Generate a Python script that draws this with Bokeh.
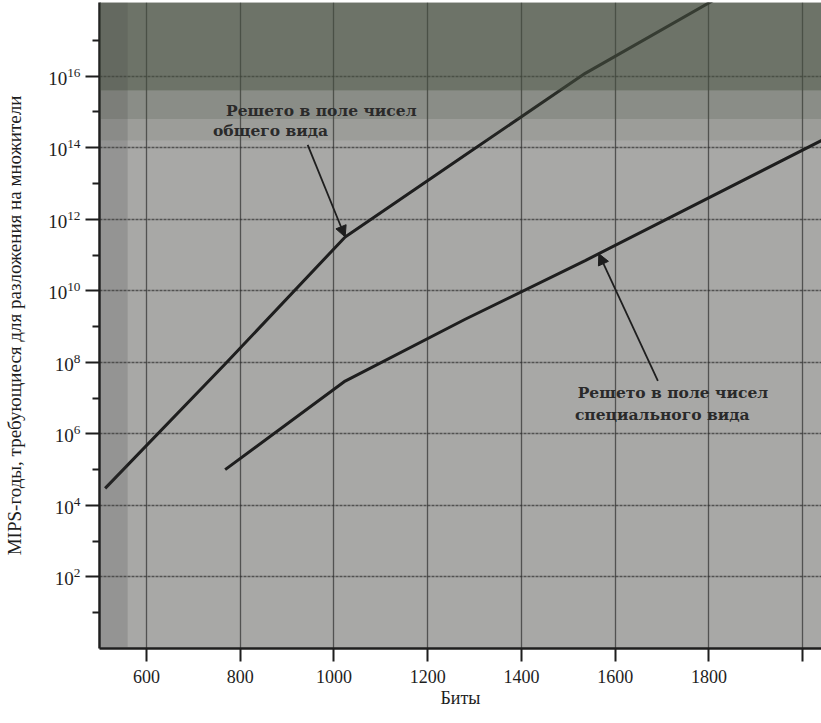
import numpy as np
from bokeh.plotting import figure
from bokeh.models import Range1d, FixedTicker, Label, Arrow, NormalHead, BoxAnnotation
from bokeh.embed import file_html
from bokeh.resources import INLINE

# ---- data ----
gnfs_bits = [512, 768, 1024, 1280, 1536, 2048]
gnfs_mips = [3e4, 9e7, 3.2e11, 6.3e13, 1.2e16, 8e19]
snfs_bits = [768, 1024, 1280, 1536, 2048]
snfs_mips = [1e5, 3e7, 1.6e9, 7e10, 1.8e14]

x_ticks = [600, 800, 1000, 1200, 1400, 1600, 1800, 2000]
y_major = [1e2, 1e4, 1e6, 1e8, 1e10, 1e12, 1e14, 1e16]
y_minor = [1e1, 1e3, 1e5, 1e7, 1e9, 1e11, 1e13, 1e15, 1e17]

gnfs_text = ["Решето в поле чисел", "общего вида"]
snfs_text = ["Решето в поле чисел", "специального вида"]
x_title = "Биты"
y_title = "MIPS-годы, требующиеся для разложения на множители"

SERIF = "Liberation Serif"
NOTE_FONT = "DejaVu Serif"
INK = "#1e1e1e"

p = figure(width=821, height=723, output_backend="svg", toolbar_location=None,
           y_axis_type="log",
           x_range=Range1d(500, 2040), y_range=Range1d(1, 10 ** 18.06),
           min_border_left=99, min_border_right=0, min_border_top=2,
           min_border_bottom=75)

p.background_fill_color = "#a8a8a6"
p.border_fill_color = "white"
p.outline_line_color = None

# darker shading like the scan
p.add_layout(BoxAnnotation(bottom=10 ** 15.6, fill_color="#465040", fill_alpha=0.6, line_color=None))
p.add_layout(BoxAnnotation(bottom=10 ** 14.8, top=10 ** 15.6, fill_color="#465040", fill_alpha=0.3, line_color=None))
p.add_layout(BoxAnnotation(bottom=10 ** 14.2, top=10 ** 14.8, fill_color="#465040", fill_alpha=0.12, line_color=None))
p.add_layout(BoxAnnotation(right=560, fill_color="#3c3c3c", fill_alpha=0.18, line_color=None))

# axes
p.xaxis.ticker = FixedTicker(ticks=x_ticks)
p.xaxis.major_label_overrides = {2000: ""}
p.yaxis.ticker = FixedTicker(ticks=y_major, minor_ticks=y_minor)

for ax in (p.xaxis[0], p.yaxis[0]):
    ax.axis_line_width = 2.5
    ax.axis_line_color = INK
    ax.major_tick_line_color = INK
    ax.major_tick_line_width = 2
    ax.major_tick_in = 0
    ax.minor_tick_line_color = INK
    ax.minor_tick_line_width = 2
    ax.minor_tick_in = 0
    ax.major_label_text_font = SERIF
    ax.major_label_text_font_size = "18px"
    ax.major_label_text_color = INK
    ax.axis_label_text_font = SERIF
    ax.axis_label_text_font_style = "normal"
    ax.axis_label_text_color = INK

p.xaxis.major_tick_out = 13
p.xaxis.minor_tick_out = 0
p.xaxis.major_label_standoff = 8
p.xaxis.axis_label = x_title
p.xaxis.axis_label_text_font_size = "18px"
p.xaxis.axis_label_standoff = 2

p.yaxis.major_label_text_font_size = "19px"
p.yaxis.major_tick_out = 14
p.yaxis.minor_tick_out = 7
p.yaxis.major_label_standoff = 5
p.yaxis.axis_label = y_title
p.yaxis.axis_label_text_font_size = "19px"
p.yaxis.axis_label_standoff = 20

# grid
p.xgrid.grid_line_color = "#2e2e2e"
p.xgrid.grid_line_alpha = 0.7
p.xgrid.grid_line_width = 1.3
p.ygrid.grid_line_color = "#2e2e2e"
p.ygrid.grid_line_alpha = 0.7
p.ygrid.grid_line_width = 1.3
p.ygrid.grid_line_dash = "3 1"

# curves
p.line(gnfs_bits, gnfs_mips, line_color=INK, line_width=3)
p.line(snfs_bits, snfs_mips, line_color=INK, line_width=3)

# annotations
def curve_at(bits, xs, ys):
    return 10 ** np.interp(bits, xs, np.log10(ys))

p.add_layout(Arrow(end=NormalHead(size=11, fill_color=INK, line_color=INK),
                   x_start=944, y_start=10 ** 14.08,
                   x_end=gnfs_bits[2], y_end=gnfs_mips[2],
                   line_color=INK, line_width=1.8))
snfs_tip_bits = 1565
p.add_layout(Arrow(end=NormalHead(size=11, fill_color=INK, line_color=INK),
                   x_start=1691, y_start=10 ** 7.48,
                   x_end=snfs_tip_bits, y_end=curve_at(snfs_tip_bits, snfs_bits, snfs_mips),
                   line_color=INK, line_width=1.8))

for i, t in enumerate(gnfs_text):
    p.add_layout(Label(x=770 - 28 * i, y=10 ** (15.32 - 0.58 * i), text=t,
                       text_font=NOTE_FONT, text_font_size="15.5px", text_font_style="bold",
                       text_color="#2a2a2a", text_baseline="top", text_align="left"))
for i, t in enumerate(snfs_text):
    p.add_layout(Label(x=1520 - 6 * i, y=10 ** (7.42 - 0.62 * i), text=t,
                       text_font=NOTE_FONT, text_font_size="15.5px", text_font_style="bold",
                       text_color="#2a2a2a", text_baseline="top", text_align="left"))

open("out.html", "w").write(file_html(p, INLINE))
